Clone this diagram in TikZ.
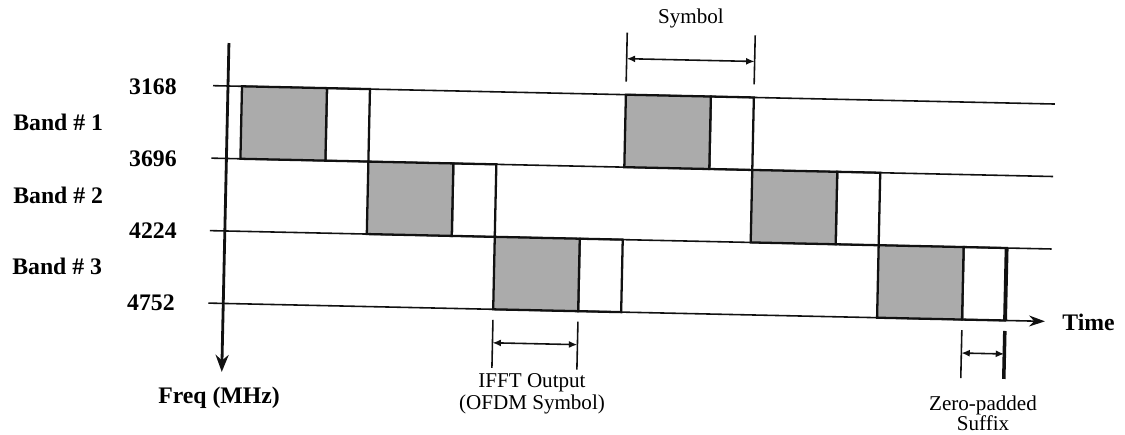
\documentclass[tikz,border=0pt]{standalone}
\usepackage{fontspec}
\setmainfont{Liberation Serif}
\usetikzlibrary{arrows.meta,positioning,calc}
\definecolor{Ink}{HTML}{111111}
\definecolor{Dots}{HTML}{ABABAB}
\tikzset{
  gridline/.style={line width=0.9pt,draw=Ink},
  axisline/.style={-{Stealth[length=3.4mm,width=2.6mm]},line width=1.6pt,draw=Ink},
  timeline/.style={-{Stealth[length=3.2mm,width=2.2mm]},line width=0.9pt,draw=Ink},
  symbox/.style={draw=Ink,line width=1.3pt,fill=Dots},
  guard/.style={draw=Ink,line width=1.3pt},
  tickline/.style={line width=0.9pt,draw=Ink},
  dim/.style={{Latex[length=1.7mm,width=1.4mm]}-{Latex[length=1.7mm,width=1.4mm]},line width=0.9pt,draw=Ink},
  biglabel/.style={font=\fontsize{13.5}{15}\selectfont\bfseries,inner sep=0pt},
  smalllabel/.style={font=\fontsize{12}{12.5}\selectfont,inner sep=0pt,align=center}
}

\begin{document}
\begin{tikzpicture}[x=0.02cm,y=-0.02cm]
  \useasboundingbox (0,0) rectangle (1125,435);
  % band names and frequency marks
  \node[biglabel,anchor=west] (band1) at (13,122) {Band \# 1};
  \node[biglabel,anchor=west] (band2) at (13,195) {Band \# 2};
  \node[biglabel,anchor=west] (band3) at (12,266) {Band \# 3};
  \node[biglabel,anchor=east] (f3168) at (177,87) {3168};
  \node[biglabel,anchor=east] (f3696) at (177,159) {3696};
  \node[biglabel,anchor=east] (f4224) at (177,231) {4224};
  \node[biglabel,anchor=east] (f4752) at (175,303) {4752};
  \node[biglabel] (freq) at (219,398) {Freq (MHz)};
  \node[biglabel,anchor=west] (time) at (1062,322) {Time};
  \node[smalllabel] (symlbl) at (691,18) {Symbol};
  \node[smalllabel] (ifftlbl) at (532,394) {IFFT Output\\(OFDM Symbol)};
  \node[smalllabel,font=\fontsize{12}{11.3}\selectfont] (zplbl) at (983,413) {Zero-padded\\Suffix};
  % the scanned sheet is slightly skewed
  \begin{scope}[shift={(228,86)},rotate=-1.25]
    \foreach \v in {0,72.5,145} \draw[gridline] (-15,\v) -- (827,\v);
    \coordinate (t0) at (-15,217.5);
    \coordinate (t1) at (822,217.5);
    \draw[timeline] (t0) -- (t1);
    % hopping symbols
    \foreach \i in {0,...,5}{
      \pgfmathsetmacro{\s}{14+128*\i}
      \pgfmathsetmacro{\vt}{72.5*mod(\i,3)}
      \draw[guard] (\s+85,\vt) rectangle ++(43,72.5);
      \draw[symbox] (\s,\vt) rectangle ++(85,72.5);
    }
    \draw[line width=2.2pt,draw=Ink] (782,145) -- (782,217.5);
    \coordinate (q0) at (0,-43);
    \coordinate (q1) at (0,286);
    \draw[axisline] (q0) -- (q1);
    % symbol length
    \draw[tickline] (398,-62) -- (398,-13);
    \draw[tickline] (526,-62) -- (526,-13);
    \coordinate (sy0) at (398,-36);
    \coordinate (sy1) at (526,-36);
    \draw[dim] (sy0) -- (sy1);
    % ifft output
    \draw[tickline] (270,228) -- (270,276);
    \draw[tickline] (355,228) -- (355,276);
    \coordinate (if0) at (270,251);
    \coordinate (if1) at (355,251);
    \draw[dim] (if0) -- (if1);
    % zero padded suffix
    \draw[tickline] (739,228) -- (739,276);
    \draw[line width=2pt,draw=Ink] (782,228) -- (782,276);
    \coordinate (zp0) at (739,251);
    \coordinate (zp1) at (782,251);
    \draw[dim] (zp0) -- (zp1);
  \end{scope}
\end{tikzpicture}
\end{document}
